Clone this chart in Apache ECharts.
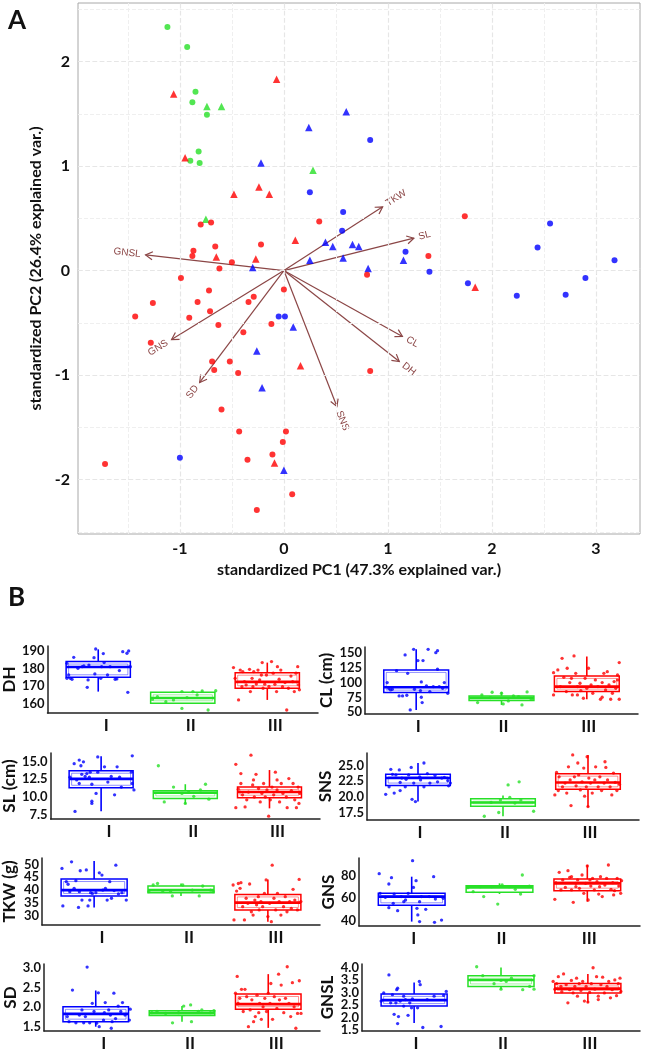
<!DOCTYPE html>
<html><head><meta charset="utf-8">
<script src="https://cdn.jsdelivr.net/npm/echarts@6/dist/echarts.min.js"></script>
<style>html,body{margin:0;padding:0;background:#fff}#c{width:645px;height:1053px}</style>
</head><body><div id="c"></div>
<script>
// ---------------- Panel A data (PCA biplot) ----------------
const blueCircles = [[0.83,1.25],[0.25,0.75],[0.57,0.56],[0.56,0.38],[1.17,0.18],[1.40,-0.01],[1.77,-0.12],[2.44,0.22],[2.56,0.45],[3.18,0.10],[2.90,-0.07],[2.71,-0.23],[2.24,-0.24],[-0.05,-0.44],[0.01,-0.44],[-1.00,-1.79]];
const blueTriangles = [[0.60,1.52],[0.24,1.37],[-0.22,1.03],[0.40,0.27],[0.47,0.23],[0.66,0.25],[0.72,0.23],[0.57,0.12],[0.25,0.10],[-0.30,0.03],[0.81,0.02],[1.15,0.10],[0.09,-0.54],[-0.26,-0.77],[-0.21,-1.12],[0.00,-1.91]];
const greenCircles = [[-1.12,2.33],[-0.93,2.14],[-0.85,1.71],[-0.88,1.61],[-0.74,1.49],[-0.82,1.14],[-0.90,1.05],[-0.81,1.03]];
const greenTriangles = [[-0.74,1.57],[-0.60,1.57],[0.28,0.96],[-0.75,0.49]];
const redCircles = [[0.34,0.47],[-0.80,0.44],[-0.70,0.46],[-0.66,0.23],[-0.87,0.19],[-0.88,0.14],[-0.22,0.25],[-0.50,0.08],[-0.62,0.02],[-0.99,-0.07],[1.74,0.52],[1.39,0.14],[0.80,-0.04],[-0.72,-0.19],[-0.29,-0.25],[0.00,-0.18],[-1.26,-0.31],[-0.34,-0.30],[-0.83,-0.30],[-0.71,-0.39],[-1.43,-0.44],[-0.91,-0.45],[-0.63,-0.52],[-0.12,-0.51],[-0.39,-0.59],[-1.28,-0.69],[-0.69,-0.87],[-0.52,-0.87],[-0.67,-0.95],[-0.44,-0.98],[0.83,-0.96],[-0.60,-1.33],[-0.43,-1.54],[0.02,-1.54],[-0.01,-1.64],[-0.11,-1.76],[-0.35,-1.81],[-1.72,-1.85],[0.08,-2.14],[-0.26,-2.29]];
const redTriangles = [[-1.06,1.69],[-0.07,1.83],[-0.95,1.08],[-0.48,0.73],[-0.24,0.80],[-0.14,0.73],[0.11,0.29],[-0.65,0.13],[-0.27,0.11],[1.84,-0.16],[0.16,-0.91],[-0.09,-1.84]];
const arrowNames = ['TKW','SL','GNSL','CL','DH','SNS','SD','GNS'];
const arrowX = [0.95, 1.25, -1.33, 1.14, 1.11, 0.51, -0.81, -1.08];
const arrowY = [0.61, 0.31, 0.15, -0.63, -0.87, -1.30, -1.07, -0.66];
const pcaXTicks = [-1, 0, 1, 2, 3];
const pcaYTicks = [-2, -1, 0, 1, 2];
const pcaXGrid = [-1.5,-1,-0.5,0,0.5,1,1.5,2,2.5,3];
const pcaYGrid = [-2.5,-2,-1.5,-1,-0.5,0,0.5,1,1.5,2,2.5];

// ---------------- Panel B data (boxplots) ----------------
const categories = ['I','II','III'];
// stats per group: [lowerWhisker, Q1, median, Q3, upperWhisker]
const dhStats = [[167.0,175.1,180.9,184.0,190.9],[160.4,160.4,163.4,166.6,166.6],[162.3,168.9,172.5,177.7,183.4]];
const clStats = [[54,83.3,92.4,121.8,156.8],[62.4,69.8,74.3,77.7,84.5],[72,85,93.5,111.6,144.4]];
const slStats = [[8.0,11.3,12.56,13.7,15.75],[9.0,9.8,10.6,10.87,11.8],[8.4,9.9,10.7,11.4,13.8]];
const snsStats = [[19.25,21.8,23.0,23.6,25.4],[16.9,18.5,19.1,19.7,20.2],[18.35,21.2,22.3,23.7,26.7]];
const tkwStats = [[33.1,37.6,39.9,44.25,51.3],[37.6,38.9,39.9,41.5,42.5],[27.5,32.1,35.0,38.2,44.1]];
const gnsStats = [[39.2,53.7,61.4,64.3,79.1],[63.7,65.2,69.6,71.1,73.2],[56.9,66.7,73.2,77.0,89.5]];
const sdStats = [[1.5,1.63,1.83,2.01,2.43],[1.63,1.79,1.85,1.91,2.03],[1.47,1.95,2.08,2.34,2.85]];
const gnslStats = [[1.78,2.46,2.70,2.95,3.41],[3.14,3.25,3.51,3.68,4.01],[2.59,2.99,3.16,3.37,3.75]];

// jittered points: [offset from group centre, value]
const dhBlue = [[-0.37,183.0],[-0.29,186.4],[-0.35,176.4],[-0.33,174.5],[-0.19,181.1],[-0.17,181.5],[-0.12,173.6],[-0.13,169.4],[-0.05,186.2],[-0.03,191.1],[0.06,188.5],[0.07,183.4],[-0.04,177.0],[0.03,174.5],[0.11,176.4],[0.25,178.9],[0.20,174.0],[0.22,174.2],[0.29,189.6],[0.34,188.7],[0.36,190.0],[0.35,166.6],[0.38,181.1],[-0.24,180.2],[-0.31,174.0],[0.14,181.1],[-0.37,174.5],[-0.11,182.0],[0.04,181.1]];
const dhGreen = [[-0.36,162.6],[-0.30,164.1],[-0.20,161.3],[-0.11,162.3],[-0.01,167.0],[-0.01,157.5],[0.05,163.6],[0.17,165.1],[0.23,167.4],[0.30,156.6],[0.39,167.5],[0.12,167.0]];
const dhRed = [[-0.40,180.6],[-0.38,174.5],[-0.34,162.3],[-0.32,179.2],[-0.29,178.3],[-0.27,172.6],[-0.25,170.8],[-0.21,179.6],[-0.20,167.0],[-0.18,174.5],[-0.16,178.3],[-0.13,171.3],[-0.11,179.2],[-0.09,173.6],[-0.06,183.4],[-0.05,168.9],[-0.03,171.2],[-0.01,176.4],[0.02,169.9],[0.05,184.0],[0.07,177.4],[0.09,171.1],[0.11,167.0],[0.14,174.0],[0.16,179.2],[0.18,169.8],[0.21,172.1],[0.23,156.6],[0.25,168.9],[0.28,175.8],[0.30,172.6],[0.32,167.0],[0.34,177.4],[0.36,181.1],[0.37,170.8],[0.38,168.0],[-0.17,169.8],[-0.07,176.4],[0.12,181.1],[-0.30,169.8]];

const clBlue = [[-0.34,100.3],[-0.32,90.1],[-0.30,87.9],[-0.28,89.0],[-0.23,120.6],[-0.20,77.7],[-0.16,77.7],[-0.11,78.8],[-0.13,147.2],[-0.10,116.1],[-0.07,54.0],[-0.03,156.8],[-0.02,89.0],[0.02,137.6],[0.05,86.7],[0.06,75.4],[0.07,66.4],[0.08,137.6],[0.06,101.4],[0.12,94.6],[0.14,156.8],[0.16,85.0],[0.20,93.5],[0.23,151.1],[0.25,154.5],[0.27,93.5],[0.25,122.9],[0.33,100.3],[0.37,82.2],[0.31,90.7]];
const clGreen = [[-0.28,66.4],[-0.23,79.4],[-0.13,74.9],[-0.11,83.9],[0.00,82.2],[0.02,64.1],[0.08,69.2],[0.20,76.5],[0.24,62.4],[0.30,84.5],[0.35,72.0],[0.14,77.7]];
const clRed = [[-0.39,117.2],[-0.39,79.4],[-0.34,121.8],[-0.31,93.5],[-0.29,141.5],[-0.27,109.3],[-0.24,85.0],[-0.23,124.6],[-0.20,100.3],[-0.18,107.6],[-0.17,79.4],[-0.15,145.5],[-0.13,116.1],[-0.11,93.5],[-0.08,99.2],[-0.07,86.7],[-0.04,73.7],[-0.02,107.6],[0.00,90.7],[0.02,124.6],[0.05,96.3],[0.07,82.2],[0.10,104.8],[0.13,93.5],[0.16,72.0],[0.18,100.3],[0.20,116.1],[0.22,87.9],[0.24,118.9],[0.26,96.3],[0.28,72.0],[0.30,82.2],[0.32,102.0],[0.34,90.7],[0.36,104.8],[0.38,134.2],[0.38,72.0],[0.36,113.2],[0.18,75.4],[-0.11,79.4]];

const slBlue = [[-0.31,7.97],[-0.32,14.7],[-0.26,15.2],[-0.24,14.4],[-0.21,14.95],[-0.29,12.4],[-0.26,11.9],[-0.23,13.2],[-0.19,12.9],[-0.14,12.8],[-0.11,11.8],[-0.11,9.4],[-0.11,9.1],[-0.06,10.5],[-0.04,15.65],[-0.04,13.5],[0.04,14.25],[0.08,12.1],[0.16,10.3],[0.19,14.25],[0.22,12.8],[0.24,11.4],[0.37,15.8],[0.36,13.5],[0.37,11.9],[0.39,11.0],[-0.13,13.5],[0.12,12.9],[-0.37,12.8],[-0.17,13.3]];
const slGreen = [[-0.32,14.4],[-0.25,9.3],[-0.14,11.4],[0.00,9.1],[-0.04,10.5],[0.04,10.7],[0.24,11.8],[0.28,9.7],[0.18,11.0],[0.10,10.1]];
const slRed = [[-0.40,14.6],[-0.40,8.5],[-0.37,11.1],[-0.34,11.9],[-0.32,10.3],[-0.29,8.6],[-0.27,9.6],[-0.25,10.7],[-0.22,15.9],[-0.20,11.7],[-0.18,10.0],[-0.16,13.2],[-0.13,11.2],[-0.11,9.3],[-0.09,10.5],[-0.07,11.9],[-0.05,10.0],[-0.03,11.0],[-0.01,7.3],[0.01,9.6],[0.03,11.4],[0.05,10.3],[0.07,13.5],[0.09,11.0],[0.12,9.3],[0.14,11.9],[0.16,10.5],[0.20,10.0],[0.21,8.5],[0.23,12.6],[0.26,10.9],[0.28,11.9],[0.30,9.6],[0.32,8.5],[0.34,11.4],[0.36,10.5],[0.35,9.1],[-0.19,12.4],[0.09,12.4],[-0.34,13.3]];

const snsBlue = [[-0.38,20.4],[-0.34,21.6],[-0.32,24.4],[-0.30,23.6],[-0.28,20.6],[-0.26,23.5],[-0.22,24.3],[-0.21,22.3],[-0.19,23.0],[-0.21,21.0],[-0.14,22.8],[-0.11,23.5],[-0.08,24.7],[-0.05,22.2],[-0.07,19.6],[-0.03,19.25],[0.02,23.2],[0.03,22.7],[0.07,25.4],[0.11,23.7],[0.14,22.2],[0.20,23.4],[0.23,22.4],[0.28,23.0],[0.31,23.1],[0.35,22.6],[0.36,21.75],[0.38,22.2],[0.07,21.6],[-0.15,21.6]];
const snsGreen = [[-0.22,16.9],[-0.05,17.5],[-0.03,19.5],[0.06,21.9],[0.08,19.9],[0.14,19.0],[0.19,22.4],[0.36,17.7],[-0.14,19.1],[0.21,19.5]];
const snsRed = [[-0.39,20.3],[-0.37,23.9],[-0.35,21.0],[-0.34,23.2],[-0.30,21.6],[-0.27,22.2],[-0.25,20.6],[-0.23,24.8],[-0.21,22.7],[-0.20,18.6],[-0.18,26.7],[-0.16,23.2],[-0.14,21.75],[-0.12,25.4],[-0.11,23.5],[-0.09,21.1],[-0.07,22.4],[-0.05,24.6],[-0.04,20.1],[-0.02,21.6],[-0.01,26.4],[0.00,18.45],[0.01,23.0],[0.03,22.2],[0.05,20.6],[0.08,22.7],[0.09,24.8],[0.12,21.6],[0.14,23.2],[0.16,21.0],[0.19,22.2],[0.21,24.7],[0.23,22.7],[0.26,21.6],[0.28,20.3],[0.30,23.8],[0.32,22.3],[0.34,21.0],[0.37,22.0],[0.20,25.6]];

const tkwBlue = [[-0.37,48.4],[-0.36,33.7],[-0.32,43.2],[-0.30,42.2],[-0.28,39.3],[-0.26,51.0],[-0.23,40.6],[-0.21,43.6],[-0.18,33.1],[-0.16,47.5],[-0.14,36.0],[-0.09,47.8],[-0.07,33.7],[-0.05,36.0],[-0.04,38.9],[-0.02,38.6],[0.02,38.9],[0.06,46.7],[0.09,45.8],[0.10,39.9],[0.13,40.6],[0.15,36.0],[0.18,43.2],[0.20,36.7],[0.23,39.7],[0.25,49.7],[0.28,38.4],[0.32,38.9],[0.37,36.0],[-0.17,39.3]];
const tkwGreen = [[-0.37,39.3],[-0.32,41.9],[-0.27,42.5],[-0.21,39.5],[-0.12,39.3],[-0.10,37.6],[0.02,41.9],[0.13,39.9],[0.21,37.6],[0.25,41.5],[0.34,39.9],[0.37,39.3]];
const tkwRed = [[-0.40,41.9],[-0.39,28.2],[-0.36,39.5],[-0.34,42.5],[-0.32,40.6],[-0.31,42.8],[-0.29,33.4],[-0.27,28.2],[-0.25,36.7],[-0.23,34.7],[-0.21,42.3],[-0.19,31.4],[-0.17,30.1],[-0.15,36.0],[-0.13,34.1],[-0.11,37.3],[-0.10,32.1],[-0.08,35.4],[-0.06,33.4],[-0.04,38.6],[-0.02,43.9],[0.00,29.5],[0.02,34.7],[0.04,27.5],[0.05,49.7],[0.07,36.7],[0.09,32.1],[0.11,38.6],[0.13,35.4],[0.15,30.1],[0.18,33.4],[0.20,37.3],[0.22,31.4],[0.25,35.4],[0.27,32.7],[0.29,40.2],[0.31,36.0],[0.34,32.1],[0.36,44.1],[0.38,35.4]];

const gnsBlue = [[-0.37,81.8],[-0.36,64.3],[-0.30,60.8],[-0.26,51.6],[-0.23,78.2],[-0.21,55.4],[-0.26,72.6],[-0.16,48.9],[-0.12,61.4],[-0.07,58.4],[-0.04,64.3],[0.01,93.3],[0.02,69.6],[0.05,75.6],[0.06,51.0],[0.07,45.1],[0.09,39.2],[0.09,56.9],[0.11,61.4],[0.16,50.1],[0.20,61.4],[0.25,79.1],[0.26,38.6],[0.27,59.3],[0.34,40.6],[0.36,59.9],[-0.09,56.9],[-0.20,63.7]];
const gnsGreen = [[-0.36,69.3],[-0.30,65.8],[-0.22,70.2],[-0.18,61.4],[-0.09,70.2],[-0.02,54.8],[0.03,71.7],[0.11,70.2],[0.18,67.9],[0.26,80.6],[0.24,63.7],[0.34,70.8]];
const gnsRed = [[-0.37,59.0],[-0.36,73.8],[-0.32,83.0],[-0.30,67.3],[-0.28,76.2],[-0.25,69.6],[-0.22,84.4],[-0.20,78.5],[-0.18,67.3],[-0.16,56.3],[-0.13,73.2],[-0.11,76.2],[-0.09,68.8],[-0.06,80.6],[-0.04,64.3],[-0.02,73.2],[0.00,88.6],[0.01,58.4],[0.04,70.8],[0.06,77.6],[0.08,67.3],[0.11,74.7],[0.13,63.7],[0.15,79.1],[0.17,61.4],[0.20,71.7],[0.22,77.6],[0.24,89.5],[0.27,67.9],[0.29,73.8],[0.31,66.7],[0.34,77.6],[0.36,70.8],[0.38,64.3],[0.39,75.6],[-0.13,70.2],[0.14,70.2],[0.03,76.2],[-0.18,79.1],[0.30,62.9]];

const sdBlue = [[-0.10,3.03],[-0.27,2.44],[-0.33,1.76],[-0.31,1.63],[-0.23,1.60],[-0.19,1.80],[-0.16,1.93],[-0.12,1.76],[-0.07,1.60],[-0.04,2.10],[-0.02,1.89],[0.01,1.59],[0.03,2.37],[0.04,1.50],[0.09,1.67],[0.11,2.12],[0.15,1.93],[0.17,1.80],[0.18,1.46],[0.21,2.36],[0.23,1.71],[0.26,2.03],[0.29,1.89],[0.31,2.12],[0.34,1.80],[0.39,1.67],[0.40,1.95],[0.19,1.63],[-0.14,1.60],[0.10,1.86]];
const sdGreen = [[-0.35,1.86],[-0.29,1.89],[-0.19,1.84],[-0.11,1.60],[-0.04,1.86],[0.02,2.03],[0.10,2.06],[0.11,1.63],[0.19,1.89],[0.23,1.93],[0.33,1.86],[0.37,1.91]];
const sdRed = [[-0.38,2.36],[-0.36,2.79],[-0.35,2.10],[-0.33,2.23],[-0.31,2.46],[-0.29,1.89],[-0.27,2.46],[-0.25,2.27],[-0.23,1.50],[-0.21,1.93],[-0.19,2.19],[-0.17,1.63],[-0.15,1.76],[-0.13,2.31],[-0.11,1.86],[-0.10,2.10],[-0.08,1.69],[-0.06,2.01],[-0.04,2.23],[-0.02,1.89],[0.00,2.36],[0.02,2.10],[0.03,2.61],[0.05,1.69],[0.07,2.27],[0.10,1.97],[0.12,2.85],[0.13,2.19],[0.15,2.57],[0.18,1.86],[0.20,2.23],[0.22,3.04],[0.24,2.10],[0.26,1.76],[0.28,2.63],[0.30,2.01],[0.32,1.46],[0.34,1.84],[0.36,2.68],[0.38,1.84]];

const gnslBlue = [[-0.38,2.66],[-0.35,2.99],[-0.29,3.71],[-0.27,2.59],[-0.25,2.92],[-0.23,2.13],[-0.21,2.59],[-0.20,3.12],[-0.19,3.18],[-0.18,2.04],[-0.19,1.76],[-0.16,2.66],[-0.12,2.46],[-0.10,2.72],[-0.07,2.09],[-0.05,2.59],[-0.03,2.39],[-0.02,2.75],[0.06,3.45],[0.07,3.32],[0.10,1.60],[0.15,2.72],[0.23,2.86],[0.31,1.64],[0.34,2.89],[0.37,3.05],[0.04,2.39],[-0.12,2.86]];
const gnslGreen = [[-0.28,4.04],[-0.21,3.68],[0.00,3.49],[0.00,3.14],[0.06,3.45],[0.12,3.58],[0.25,3.12],[0.33,3.25],[0.38,3.14],[0.38,3.68],[-0.08,3.36]];
const gnslRed = [[-0.40,3.45],[-0.38,3.14],[-0.36,3.36],[-0.34,3.64],[-0.31,3.25],[-0.30,3.04],[-0.28,3.75],[-0.25,3.32],[-0.23,2.59],[-0.21,3.12],[-0.19,3.49],[-0.17,2.99],[-0.15,3.25],[-0.13,3.58],[-0.12,2.86],[-0.10,3.36],[-0.08,3.09],[-0.06,3.45],[-0.04,2.66],[-0.02,3.25],[0.00,2.62],[0.02,3.01],[0.04,3.36],[0.06,4.00],[0.08,3.14],[0.10,3.64],[0.12,2.86],[0.15,3.32],[0.17,3.62],[0.19,2.99],[0.22,3.25],[0.24,3.45],[0.26,2.79],[0.28,3.12],[0.31,3.51],[0.33,2.88],[0.35,3.36],[0.37,3.58],[0.38,3.05],[0.12,2.72]];

// tick labels of each boxplot value axis
const dhTicks = [160,170,180,190];
const clTicks = [50,75,100,125,150];
const slTicks = [7.5,10,12.5,15];
const snsTicks = [17.5,20,22.5,25];
const tkwTicks = [30,35,40,45,50];
const gnsTicks = [40,60,80];
const sdTicks = [1.5,2,2.5,3];
const gnslTicks = [1.5,2,2.5,3,3.5,4];

// ---------------- styling / layout ----------------
const BLUE = '#0000ff', GREEN = '#27e027', RED = '#ff0000';
const groupColors = [BLUE, GREEN, RED];
const ARROW = '#8b4646';
const FONT = 'Lato, "Open Sans", sans-serif';

const panels = [
  {name:'DH', stats:dhStats, pts:[dhBlue,dhGreen,dhRed], ticks:dhTicks, dec:0, min:154.9, max:192.8, left:47, top:646, width:271, height:67, gap:28, shift:16},
  {name:'CL (cm)', stats:clStats, pts:[clBlue,clGreen,clRed], ticks:clTicks, dec:0, min:47, max:160.7, left:365, top:647, width:273, height:67, gap:29, shift:4},
  {name:'SL (cm)', stats:slStats, pts:[slBlue,slGreen,slRed], ticks:slTicks, dec:1, min:6.9, max:16.2, left:49, top:753, width:271, height:66, gap:31, shift:16},
  {name:'SNS', stats:snsStats, pts:[snsBlue,snsGreen,snsRed], ticks:snsTicks, dec:1, min:16.3, max:27.0, left:367, top:753, width:272, height:67, gap:30, shift:4},
  {name:'TKW (g)', stats:tkwStats, pts:[tkwBlue,tkwGreen,tkwRed], ticks:tkwTicks, dec:0, min:26.2, max:52.5, left:42, top:858, width:278, height:67, gap:24, shift:16},
  {name:'GNS', stats:gnsStats, pts:[gnsBlue,gnsGreen,gnsRed], ticks:gnsTicks, dec:0, min:35.3, max:95.7, left:359, top:858, width:281, height:68, gap:21, shift:4},
  {name:'SD', stats:sdStats, pts:[sdBlue,sdGreen,sdRed], ticks:sdTicks, dec:1, min:1.39, max:3.11, left:44, top:964, width:276, height:67, gap:24, shift:16},
  {name:'GNSL', stats:gnslStats, pts:[gnslBlue,gnslGreen,gnslRed], ticks:gnslTicks, dec:1, min:1.46, max:4.15, left:362, top:964, width:278, height:67, gap:26, shift:4}
];

const grids = [{left:78, top:3, width:562, height:531, show:true, borderColor:'#a8a8a8', borderWidth:1, backgroundColor:'transparent'}];
const xAxes = [{
  gridIndex:0, type:'value', min:-1.98, max:3.425,
  axisLine:{show:false}, splitLine:{show:false},
  axisTick:{show:true, customValues:pcaXTicks, length:4, lineStyle:{color:'#999'}},
  axisLabel:{customValues:pcaXTicks, margin:7, color:'#111', fontFamily:FONT, fontWeight:'bold', fontSize:16, hideOverlap:false},
  name:'standardized PC1 (47.3% explained var.)', nameLocation:'middle', nameGap:24,
  nameTextStyle:{color:'#111', fontFamily:FONT, fontWeight:'bold', fontSize:16}
}];
const yAxes = [{
  gridIndex:0, type:'value', min:-2.52, max:2.56,
  axisLine:{show:false}, splitLine:{show:false},
  axisTick:{show:true, customValues:pcaYTicks, length:4, lineStyle:{color:'#999'}},
  axisLabel:{customValues:pcaYTicks, margin:8, color:'#111', fontFamily:FONT, fontWeight:'bold', fontSize:16, hideOverlap:false},
  name:'standardized PC2 (26.4% explained var.)', nameLocation:'middle', nameGap:33, nameRotate:90,
  nameTextStyle:{color:'#111', fontFamily:FONT, fontWeight:'bold', fontSize:16}
}];

function sym(data, symbol, color, size) {
  return {type:'scatter', xAxisIndex:0, yAxisIndex:0, data:data, symbol:symbol, symbolSize:size,
    itemStyle:{color:color}, z:5, silent:true};
}

const gridLines = pcaXGrid.map(v => ({xAxis:v, lineStyle:{color: Number.isInteger(v) ? '#e6e6e6' : '#efefef', width: Number.isInteger(v)?1.2:1}}))
  .concat(pcaYGrid.map(v => ({yAxis:v, lineStyle:{color: Number.isInteger(v) ? '#e6e6e6' : '#efefef', width: Number.isInteger(v)?1.2:1}})));

const series = [
  {type:'scatter', xAxisIndex:0, yAxisIndex:0, data:[], silent:true,
   markLine:{silent:true, symbol:['none','none'], label:{show:false}, animation:false, data:gridLines}},
  {type:'custom', xAxisIndex:0, yAxisIndex:0, silent:true, z:3,
   data: arrowNames.map((n,i)=>[arrowX[i], arrowY[i], n]),
   encode:{x:0, y:1},
   renderItem:function(params, api){
     const p0 = api.coord([0,0]);
     const p1 = api.coord([api.value(0), api.value(1)]);
     const name = arrowNames[params.dataIndex];
     const dx = p1[0]-p0[0], dy = p1[1]-p0[1];
     const len = Math.sqrt(dx*dx+dy*dy);
     const ux = dx/len, uy = dy/len;
     const head = 8, a = Math.PI/6;
     const bx = -ux, by = -uy;
     const h1 = [p1[0]+head*(bx*Math.cos(a)-by*Math.sin(a)), p1[1]+head*(bx*Math.sin(a)+by*Math.cos(a))];
     const h2 = [p1[0]+head*(bx*Math.cos(-a)-by*Math.sin(-a)), p1[1]+head*(bx*Math.sin(-a)+by*Math.cos(-a))];
     let rot = Math.atan2(-dy, dx);
     let align = 'left';
     if (dx < 0) { rot = rot > 0 ? rot - Math.PI : rot + Math.PI; align = 'right'; }
     const tx = p1[0] + ux*5, ty = p1[1] + uy*5;
     return {type:'group', children:[
       {type:'line', shape:{x1:p0[0], y1:p0[1], x2:p1[0], y2:p1[1]}, style:{stroke:ARROW, lineWidth:1.2}},
       {type:'polyline', shape:{points:[h1, p1, h2]}, style:{stroke:ARROW, lineWidth:1.2, fill:null}},
       {type:'text', x:tx, y:ty, rotation:rot, style:{text:name, fill:ARROW, align:align, verticalAlign:'middle', font:'10px "Liberation Sans", Arial, sans-serif'}}
     ]};
   }},
  sym(greenCircles, 'circle', GREEN, 6),
  sym(greenTriangles, 'triangle', GREEN, 7.5),
  sym(blueCircles, 'circle', BLUE, 6),
  sym(blueTriangles, 'triangle', BLUE, 7.5),
  sym(redCircles, 'circle', RED, 6),
  sym(redTriangles, 'triangle', RED, 7.5)
];

function renderBox(params, api) {
  const c = api.value(0);
  const lo = api.coord([c, api.value(1)]);
  const q1 = api.coord([c, api.value(2)]);
  const md = api.coord([c, api.value(3)]);
  const q3 = api.coord([c, api.value(4)]);
  const hi = api.coord([c, api.value(5)]);
  const hw = api.size([0.76, 0])[0] / 2;
  const col = groupColors[params.dataIndex];
  const x = q1[0];
  const h = q1[1]-q3[1];
  const children = [
    {type:'line', shape:{x1:x, y1:hi[1], x2:x, y2:q3[1]}, style:{stroke:col, lineWidth:1.6}},
    {type:'line', shape:{x1:x, y1:q1[1], x2:x, y2:lo[1]}, style:{stroke:col, lineWidth:1.6}},
    {type:'rect', shape:{x:x-hw, y:q3[1], width:2*hw, height:h}, style:{fill:'rgba(255,255,255,0.35)', stroke:col, lineWidth:1.5}},
    {type:'line', shape:{x1:x-hw, y1:md[1], x2:x+hw, y2:md[1]}, style:{stroke:col, lineWidth:2.6}}
  ];
  if (h > 7) {
    children.splice(3, 0, {type:'rect', shape:{x:x-hw+2.5, y:q3[1]+2.5, width:2*hw-5, height:h-5}, style:{fill:'none', stroke:col, lineWidth:0.8, opacity:0.55}});
  }
  return {type:'group', children:children};
}

function valueAxis(gi, p, ticks, main) {
  return {
    gridIndex:gi, type:'value', min:p.min, max:p.max, position:'left',
    axisLine:{show:main, lineStyle:{color:'#222', width:1.5}}, splitLine:{show:false},
    axisTick:{show:false},
    axisLabel:{customValues:ticks, formatter:v => v.toFixed(p.dec), margin:3,
      hideOverlap:false, showMinLabel:true, showMaxLabel:true,
      color:'#111', fontFamily:FONT, fontWeight:'bold', fontSize:13},
    name: main ? p.name : '', nameLocation:'middle', nameRotate:90, nameGap:p.gap,
    nameTextStyle:{color:'#111', fontFamily:FONT, fontWeight:'bold', fontSize:17}
  };
}

panels.forEach((p, i) => {
  const gi = i + 1;
  grids.push({left:p.left, top:p.top, width:p.width, height:p.height});
  xAxes.push({
    gridIndex:gi, type:'value', min:0.4, max:3.6,
    axisLine:{show:true, lineStyle:{color:'#222', width:1.5}}, splitLine:{show:false},
    axisTick:{show:false},
    axisLabel:{customValues:[1,2,3], formatter:v => categories[Math.round(v)-1], margin:4, hideOverlap:false,
      padding:[0,0,0,p.shift], color:'#111', fontFamily:FONT, fontWeight:'bold', fontSize:17}
  });
  // tick labels split over two stacked axes so that tightly spaced labels are all kept
  const yi = yAxes.length;
  yAxes.push(valueAxis(gi, p, p.ticks.filter((t,k) => k % 2 === 0), true));
  yAxes.push(valueAxis(gi, p, p.ticks.filter((t,k) => k % 2 === 1), false));
  series.push({
    type:'custom', xAxisIndex:gi, yAxisIndex:yi, silent:true, z:2,
    data: p.stats.map((s,k) => [k+1].concat(s)),
    encode:{x:0, y:[1,2,3,4,5]},
    renderItem: renderBox
  });
  p.pts.forEach((arr, k) => {
    series.push({type:'scatter', xAxisIndex:gi, yAxisIndex:yi, silent:true, z:4,
      data: arr.map(d => [k + 1 + d[0], d[1]]),
      symbol:'circle', symbolSize:3.3, itemStyle:{color:groupColors[k]}});
  });
});

const chart = echarts.init(document.getElementById('c'), null, {renderer:'canvas'});
chart.setOption({
  animation:false,
  backgroundColor:'#ffffff',
  grid:grids, xAxis:xAxes, yAxis:yAxes, series:series,
  graphic:[
    {type:'text', left:8, top:8, style:{text:'A', font:'bold 26px ' + FONT, fill:'#111'}},
    {type:'text', left:8, top:585, style:{text:'B', font:'bold 26px ' + FONT, fill:'#111'}}
  ]
});
</script>
</body></html>
